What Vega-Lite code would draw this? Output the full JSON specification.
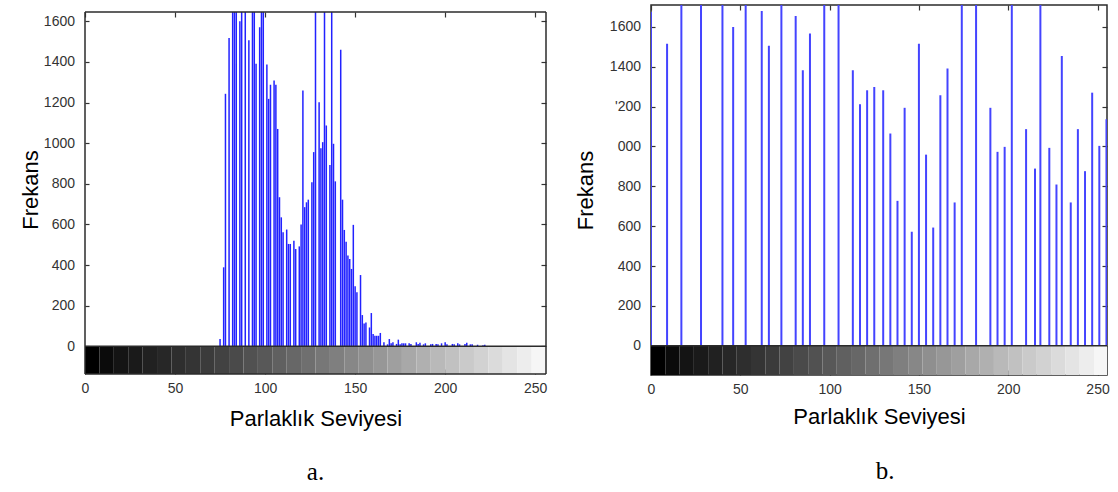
{
  "$schema": "https://vega.github.io/schema/vega-lite/v6.json",
  "padding": {"left": 19, "top": 3, "right": 0, "bottom": 0},
  "spacing": 26,
  "background": "white",
  "config": {
    "view": {"stroke": "#2b2b2b", "strokeWidth": 1.5},
    "axis": {"grid": false, "domain": false, "labelFont": "Liberation Sans", "labelFontSize": 14, "labelColor": "#333333", "tickColor": "#333333", "tickWidth": 1.2, "titleFont": "Liberation Sans", "titleFontSize": 22, "titleFontWeight": "normal", "titleColor": "#000000", "labelFlush": false, "format": "d"},
    "title": {"font": "Liberation Serif", "fontSize": 25, "fontWeight": "normal", "color": "#000000"}
  },
  "datasets": {
    "bands": [
      {"lo": 0, "hi": 8}, {"lo": 8, "hi": 16}, {"lo": 16, "hi": 24}, {"lo": 24, "hi": 32},
      {"lo": 32, "hi": 40}, {"lo": 40, "hi": 48}, {"lo": 48, "hi": 56}, {"lo": 56, "hi": 64},
      {"lo": 64, "hi": 72}, {"lo": 72, "hi": 80}, {"lo": 80, "hi": 88}, {"lo": 88, "hi": 96},
      {"lo": 96, "hi": 104}, {"lo": 104, "hi": 112}, {"lo": 112, "hi": 120}, {"lo": 120, "hi": 128},
      {"lo": 128, "hi": 136}, {"lo": 136, "hi": 144}, {"lo": 144, "hi": 152}, {"lo": 152, "hi": 160},
      {"lo": 160, "hi": 168}, {"lo": 168, "hi": 176}, {"lo": 176, "hi": 184}, {"lo": 184, "hi": 192},
      {"lo": 192, "hi": 200}, {"lo": 200, "hi": 208}, {"lo": 208, "hi": 216}, {"lo": 216, "hi": 224},
      {"lo": 224, "hi": 232}, {"lo": 232, "hi": 240}, {"lo": 240, "hi": 248}, {"lo": 248, "hi": 256}
    ],
    "a": [
      {"level": 75, "count": 36}, {"level": 77, "count": 389}, {"level": 78, "count": 1243},
      {"level": 80, "count": 1517}, {"level": 82, "count": 1645}, {"level": 83, "count": 1645},
      {"level": 84, "count": 1645}, {"level": 86, "count": 1600}, {"level": 87, "count": 1645},
      {"level": 89, "count": 1645}, {"level": 91, "count": 1506}, {"level": 93, "count": 1645},
      {"level": 94, "count": 1645}, {"level": 95, "count": 1391}, {"level": 97, "count": 1571},
      {"level": 98, "count": 1645}, {"level": 99, "count": 1645}, {"level": 101, "count": 1387},
      {"level": 102, "count": 1218}, {"level": 103, "count": 1287}, {"level": 105, "count": 1309},
      {"level": 106, "count": 1287}, {"level": 107, "count": 1070}, {"level": 108, "count": 734},
      {"level": 109, "count": 635}, {"level": 110, "count": 562}, {"level": 112, "count": 575},
      {"level": 113, "count": 504}, {"level": 114, "count": 504}, {"level": 116, "count": 520},
      {"level": 117, "count": 479}, {"level": 119, "count": 492}, {"level": 120, "count": 600},
      {"level": 121, "count": 1259}, {"level": 122, "count": 685}, {"level": 123, "count": 709},
      {"level": 124, "count": 722}, {"level": 126, "count": 808}, {"level": 127, "count": 956},
      {"level": 128, "count": 1645}, {"level": 130, "count": 1202}, {"level": 131, "count": 975},
      {"level": 132, "count": 1005}, {"level": 133, "count": 1645}, {"level": 134, "count": 1087},
      {"level": 136, "count": 893}, {"level": 137, "count": 1645}, {"level": 138, "count": 997},
      {"level": 139, "count": 812}, {"level": 142, "count": 1460}, {"level": 143, "count": 722},
      {"level": 144, "count": 573}, {"level": 145, "count": 515}, {"level": 146, "count": 447},
      {"level": 147, "count": 430}, {"level": 148, "count": 381}, {"level": 149, "count": 598},
      {"level": 150, "count": 296}, {"level": 151, "count": 266}, {"level": 153, "count": 351},
      {"level": 154, "count": 154}, {"level": 155, "count": 113}, {"level": 156, "count": 118},
      {"level": 158, "count": 93}, {"level": 159, "count": 164}, {"level": 160, "count": 61},
      {"level": 161, "count": 52}, {"level": 162, "count": 52}, {"level": 163, "count": 52},
      {"level": 164, "count": 66}, {"level": 166, "count": 20}, {"level": 168, "count": 10},
      {"level": 169, "count": 36}, {"level": 170, "count": 15}, {"level": 171, "count": 20},
      {"level": 173, "count": 12}, {"level": 174, "count": 33}, {"level": 175, "count": 10},
      {"level": 176, "count": 15}, {"level": 177, "count": 15}, {"level": 178, "count": 15},
      {"level": 180, "count": 15}, {"level": 181, "count": 12}, {"level": 184, "count": 20},
      {"level": 185, "count": 12}, {"level": 186, "count": 18}, {"level": 188, "count": 10},
      {"level": 189, "count": 15}, {"level": 192, "count": 10}, {"level": 193, "count": 12},
      {"level": 195, "count": 12}, {"level": 196, "count": 10}, {"level": 198, "count": 15},
      {"level": 200, "count": 20}, {"level": 201, "count": 10}, {"level": 204, "count": 12},
      {"level": 205, "count": 10}, {"level": 207, "count": 15}, {"level": 208, "count": 10},
      {"level": 211, "count": 12}, {"level": 212, "count": 18}, {"level": 214, "count": 10},
      {"level": 215, "count": 10}, {"level": 218, "count": 8}, {"level": 221, "count": 6},
      {"level": 222, "count": 8}
    ],
    "b": [
      {"level": 0, "count": 1675}, {"level": 9, "count": 1516}, {"level": 17, "count": 3000},
      {"level": 28, "count": 2800}, {"level": 40, "count": 3100}, {"level": 46, "count": 1600},
      {"level": 53, "count": 2900}, {"level": 62, "count": 1680}, {"level": 66, "count": 1505},
      {"level": 73, "count": 3000}, {"level": 81, "count": 1655}, {"level": 85, "count": 1382},
      {"level": 89, "count": 1567}, {"level": 97, "count": 3200}, {"level": 105, "count": 2700},
      {"level": 113, "count": 1382}, {"level": 117, "count": 1212}, {"level": 121, "count": 1282},
      {"level": 125, "count": 1299}, {"level": 130, "count": 1282}, {"level": 134, "count": 1065},
      {"level": 138, "count": 727}, {"level": 142, "count": 1194}, {"level": 146, "count": 572},
      {"level": 150, "count": 1516}, {"level": 154, "count": 959}, {"level": 158, "count": 593},
      {"level": 162, "count": 1257}, {"level": 166, "count": 1391}, {"level": 170, "count": 719},
      {"level": 174, "count": 2900}, {"level": 182, "count": 3000}, {"level": 190, "count": 1194},
      {"level": 194, "count": 973}, {"level": 198, "count": 998}, {"level": 202, "count": 3100},
      {"level": 210, "count": 1087}, {"level": 215, "count": 889}, {"level": 218, "count": 2600},
      {"level": 223, "count": 993}, {"level": 227, "count": 809}, {"level": 230, "count": 1454},
      {"level": 235, "count": 719}, {"level": 239, "count": 1087}, {"level": 243, "count": 876},
      {"level": 247, "count": 1270}, {"level": 251, "count": 1003}, {"level": 255, "count": 1137}
    ]
  },
  "hconcat": [
    {
      "width": 461,
      "height": 369,
      "view": {"stroke": null},
      "title": {"text": "a.", "orient": "bottom", "offset": 31},
      "resolve": {"axis": {"x": "independent", "y": "independent"}},
      "layer": [
        {
          "data": {"name": "bands"},
          "mark": {"type": "rect", "clip": true},
          "encoding": {
            "x": {"field": "lo", "type": "quantitative", "scale": {"domain": [0, 256], "nice": false, "zero": false},
                  "axis": {"values": [0, 50, 100, 150, 200, 250], "tickSize": -5, "labelPadding": 12, "title": "Parlaklık Seviyesi", "titlePadding": 13}},
            "x2": {"field": "hi"},
            "y": {"datum": -136, "type": "quantitative", "scale": {"domain": [-136, 1680], "nice": false, "zero": false},
                  "axis": {"values": [0, 200, 400, 600, 800, 1000, 1200, 1400, 1600], "tickSize": -4, "labelPadding": 14.5, "title": "Frekans", "titlePadding": 1}},
            "y2": {"datum": 0},
            "color": {"field": "lo", "type": "quantitative", "scale": {"domain": [0, 256], "range": ["#000000", "#ffffff"]}, "legend": null}
          }
        },
        {
          "data": {"name": "a"},
          "mark": {"type": "rule", "color": "#2222ff", "strokeWidth": 1.5, "clip": true},
          "encoding": {
            "x": {"field": "level", "type": "quantitative", "scale": {"domain": [0, 256], "nice": false, "zero": false},
                  "axis": {"orient": "top", "offset": -7, "values": [0, 50, 100, 150, 200, 250], "tickSize": -5, "labels": false, "title": null}},
            "y": {"field": "count", "type": "quantitative", "scale": {"domain": [-136, 1680], "nice": false, "zero": false},
                  "axis": {"orient": "right", "values": [0, 200, 400, 600, 800, 1000, 1200, 1400, 1600], "tickSize": -5, "labels": false, "title": null}},
            "y2": {"datum": 0}
          }
        },
        {
          "data": {"values": [{}]},
          "mark": {"type": "rule", "color": "#2b2b2b", "strokeWidth": 1.5},
          "encoding": {"y": {"datum": 0, "type": "quantitative", "scale": {"domain": [-136, 1680], "nice": false, "zero": false}, "axis": null}}
        },
        {
          "data": {"values": [{}]},
          "mark": {"type": "rule", "color": "#2b2b2b", "strokeWidth": 1.5},
          "encoding": {"y": {"datum": 1645, "type": "quantitative", "scale": {"domain": [-136, 1680], "nice": false, "zero": false}, "axis": null}}
        },
        {
          "data": {"values": [{}]},
          "mark": {"type": "rule", "color": "#2b2b2b", "strokeWidth": 1.5},
          "encoding": {"y": {"datum": -136, "type": "quantitative", "scale": {"domain": [-136, 1680], "nice": false, "zero": false}, "axis": null}}
        },
        {
          "data": {"values": [{}]},
          "mark": {"type": "rule", "color": "#2b2b2b", "strokeWidth": 1.5},
          "encoding": {
            "x": {"datum": 0, "type": "quantitative", "scale": {"domain": [0, 256], "nice": false, "zero": false}, "axis": null},
            "y": {"datum": -136, "type": "quantitative", "scale": {"domain": [-136, 1680], "nice": false, "zero": false}, "axis": null},
            "y2": {"datum": 1645}
          }
        },
        {
          "data": {"values": [{}]},
          "mark": {"type": "rule", "color": "#2b2b2b", "strokeWidth": 1.5},
          "encoding": {
            "x": {"datum": 256, "type": "quantitative", "scale": {"domain": [0, 256], "nice": false, "zero": false}, "axis": null},
            "y": {"datum": -136, "type": "quantitative", "scale": {"domain": [-136, 1680], "nice": false, "zero": false}, "axis": null},
            "y2": {"datum": 1645}
          }
        }
      ]
    },
    {
      "width": 456,
      "height": 370,
      "title": {"text": "b.", "orient": "bottom", "offset": 32, "dx": 6},
      "resolve": {"axis": {"x": "independent", "y": "independent"}},
      "layer": [
        {
          "data": {"name": "bands"},
          "mark": {"type": "rect", "clip": true},
          "encoding": {
            "x": {"field": "lo", "type": "quantitative", "scale": {"domain": [0, 255.3], "nice": false, "zero": false},
                  "axis": {"values": [0, 50, 100, 150, 200, 250], "tickSize": -5, "labelPadding": 12, "title": "Parlaklık Seviyesi", "titlePadding": 10}},
            "x2": {"field": "hi"},
            "y": {"datum": -147, "type": "quantitative", "scale": {"domain": [-147, 1710], "nice": false, "zero": false},
                  "axis": {"values": [0, 200, 400, 600, 800, 1000, 1200, 1400, 1600], "tickSize": -4, "labelPadding": 14.5, "title": "Frekans", "titlePadding": 12,
                           "labelExpr": "datum.value == 1200 ? \"'200\" : datum.value == 1000 ? '000' : datum.label"}},
            "y2": {"datum": 0},
            "color": {"field": "lo", "type": "quantitative", "scale": {"domain": [0, 256], "range": ["#000000", "#ffffff"]}, "legend": null}
          }
        },
        {
          "data": {"name": "b"},
          "mark": {"type": "rule", "color": "#4444ff", "strokeWidth": 2, "clip": true},
          "encoding": {
            "x": {"field": "level", "type": "quantitative", "scale": {"domain": [0, 255.3], "nice": false, "zero": false},
                  "axis": {"orient": "top", "values": [0, 50, 100, 150, 200, 250], "tickSize": -5, "labels": false, "title": null}},
            "y": {"field": "count", "type": "quantitative", "scale": {"domain": [-147, 1710], "nice": false, "zero": false},
                  "axis": {"orient": "right", "values": [0, 200, 400, 600, 800, 1000, 1200, 1400, 1600], "tickSize": -5, "labels": false, "title": null}},
            "y2": {"datum": 0}
          }
        },
        {
          "data": {"values": [{}]},
          "mark": {"type": "rule", "color": "#2b2b2b", "strokeWidth": 1.5},
          "encoding": {"y": {"datum": 0, "type": "quantitative", "scale": {"domain": [-147, 1710], "nice": false, "zero": false}, "axis": null}}
        }
      ]
    }
  ]
}
